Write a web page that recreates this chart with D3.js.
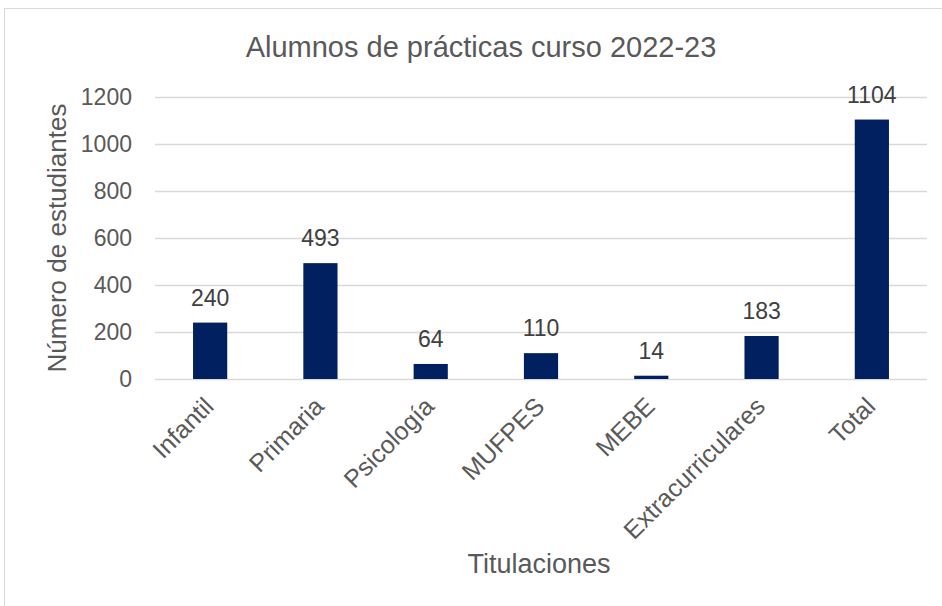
<!DOCTYPE html>
<html>
<head>
  <meta charset="utf-8">
  <script src="https://d3js.org/d3.v7.min.js"></script>
  <style>
    body { margin:0; background:#fff; font-family: "Liberation Sans", Arial, sans-serif; }
  </style>
</head>
<body>
  <script>
    // chart data
    var categories = ["Infantil", "Primaria", "Psicología", "MUFPES", "MEBE", "Extracurriculares", "Total"];
    var values = [240, 493, 64, 110, 14, 183, 1104];
    var yTicks = [0, 200, 400, 600, 800, 1000, 1200];

    var w = 942, h = 606;
    var margin = {left: 155, right: 15, top: 97, bottom: 227};

    var svg = d3.select("body").append("svg")
      .attr("width", w)
      .attr("height", h);

    // chart border
    svg.append("rect")
      .attr("x", 4.5).attr("y", 8.5)
      .attr("width", 960).attr("height", 620)
      .attr("fill", "#fff")
      .attr("stroke", "#d9d9d9");

    var x = d3.scaleBand()
      .domain(categories)
      .range([margin.left, w - margin.right])
      .paddingInner(0.69)
      .paddingOuter(0.345);

    var y = d3.scaleLinear()
      .domain([0, 1200])
      .range([h - margin.bottom, margin.top]);

    // gridlines
    svg.append("g")
      .selectAll("line")
      .data(yTicks)
      .enter().append("line")
      .attr("x1", margin.left).attr("x2", w - margin.right)
      .attr("y1", function(d){ return Math.round(y(d)) + 0.5; })
      .attr("y2", function(d){ return Math.round(y(d)) + 0.5; })
      .attr("stroke", "#d9d9d9")
      .attr("stroke-width", 1.3);

    // y tick labels
    svg.append("g")
      .selectAll("text")
      .data(yTicks)
      .enter().append("text")
      .attr("x", 132)
      .attr("y", function(d){ return y(d); })
      .attr("dy", "0.35em")
      .attr("text-anchor", "end")
      .attr("fill", "#595959")
      .style("font-size", "23px")
      .text(function(d){ return d; });

    // bars
    svg.append("g")
      .selectAll("rect")
      .data(values)
      .enter().append("rect")
      .attr("x", function(d, i){ return x(categories[i]); })
      .attr("width", x.bandwidth())
      .attr("y", function(d){ return y(d); })
      .attr("height", function(d){ return y(0) - y(d); })
      .attr("fill", "#002060");

    // data labels
    svg.append("g")
      .selectAll("text")
      .data(values)
      .enter().append("text")
      .attr("x", function(d, i){ return x(categories[i]) + x.bandwidth() / 2; })
      .attr("y", function(d){ return y(d) - 17; })
      .attr("text-anchor", "middle")
      .attr("fill", "#404040")
      .style("font-size", "23px")
      .text(function(d){ return d; });

    // x category labels
    svg.append("g")
      .selectAll("text")
      .data(categories)
      .enter().append("text")
      .attr("transform", function(d){
        return "translate(" + (x(d) + x.bandwidth() / 2 + 5) + "," + (y(0) + 29) + ") rotate(-45)";
      })
      .attr("text-anchor", "end")
      .attr("fill", "#595959")
      .style("font-size", "25px")
      .text(function(d){ return d; });

    // title
    svg.append("text")
      .attr("x", 481).attr("y", 57)
      .attr("text-anchor", "middle")
      .attr("fill", "#595959")
      .style("font-size", "29px")
      .text("Alumnos de prácticas curso 2022-23");

    // axis titles
    svg.append("text")
      .attr("transform", "translate(66," + ((y(0) + y(1200)) / 2) + ") rotate(-90)")
      .attr("text-anchor", "middle")
      .attr("fill", "#595959")
      .style("font-size", "26px")
      .text("Número de estudiantes");

    svg.append("text")
      .attr("x", 539)
      .attr("y", 573)
      .attr("text-anchor", "middle")
      .attr("fill", "#595959")
      .style("font-size", "27px")
      .text("Titulaciones");
  </script>
</body>
</html>
